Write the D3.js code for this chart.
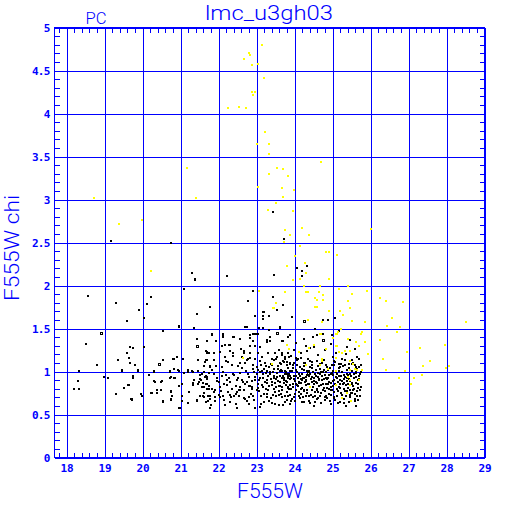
<!DOCTYPE html>
<html><head><meta charset="utf-8">
<script src="https://cdn.jsdelivr.net/npm/d3@7"></script>
<style>body{margin:0;background:#fff}svg{display:block}</style>
</head><body>
<script>
const chartTitle = "lmc_u3gh03";
const cornerTag = "PC";
const xLabel = "F555W";
const yLabel = "F555W chi";
const xTicks = [18,19,20,21,22,23,24,25,26,27,28,29];
const yTicks = [0,0.5,1,1.5,2,2.5,3,3.5,4,4.5,5];

const yellowStars = [
[23.15,4.80],[22.80,4.70],[22.83,4.68],[22.68,4.63],[22.89,4.56],[23.04,4.57],[23.20,4.41],[22.88,4.25],[22.96,4.25],[22.92,4.21],
[22.25,4.06],[22.55,4.08],[22.73,4.06],[23.22,3.78],[23.01,3.65],[23.33,3.64],[23.33,3.53],[21.17,3.37],[24.70,3.44],[23.53,3.37],
[23.69,3.36],[23.33,3.30],[23.83,3.27],[23.04,3.15],[23.68,3.13],[23.99,3.11],[23.69,3.03],[21.42,3.02],[23.51,2.96],[23.31,2.88],
[23.96,2.87],[23.75,2.64],[24.20,2.67],[23.87,2.59],[24.38,2.59],[26.01,2.66],[23.73,2.51],[24.15,2.46],[24.82,2.39],[24.91,2.39],
[25.12,2.36],[24.01,2.34],[24.28,2.26],[24.29,2.15],[23.80,2.23],[24.15,2.08],[24.91,2.08],[20.22,2.17],[18.73,3.02],[19.38,2.72],
[19.99,2.76],[26.25,1.86],[26.41,1.82],[26.85,1.81],[26.57,1.62],[26.43,1.53],[26.78,1.52],[26.69,1.46],[28.52,1.57],[26.25,1.37],
[27.95,1.31],[27.31,1.27],[26.96,1.23],[26.33,1.15],[27.57,1.12],[27.38,1.06],[28.06,1.06],[27.99,1.04],[26.41,1.02],[26.90,1.01],
[27.36,0.96],[26.75,0.93],[27.15,0.92],[27.06,0.85],[23.95,2.06],[24.68,2.00],[25.16,1.96],[25.41,2.00],[25.90,1.94],[25.52,1.90],
[24.75,1.89],[24.25,1.99],[24.29,1.92],[24.36,1.92],[24.65,1.93],[23.74,1.93],[24.54,1.85],[24.59,1.83],[24.75,1.83],[25.41,1.82],
[23.52,1.80],[23.43,1.74],[23.46,1.74],[24.55,1.75],[24.58,1.75],[24.92,1.70],[25.20,1.70],[25.27,1.66],[25.46,1.74],[25.85,1.58],
[25.52,1.59],[24.73,1.58],[24.36,1.60],[25.22,1.49],[25.15,1.46],[24.66,1.44],[24.69,1.44],[25.08,1.44],[25.12,1.44],[25.78,1.46],
[25.75,1.44],[25.00,1.39],[25.41,1.38],[25.62,1.34],[25.85,1.34],[25.69,1.30],[25.08,1.30],[25.11,1.30],[25.46,1.24],[25.33,1.24],
[25.94,1.20],[25.18,1.23],[25.25,1.21],[24.83,1.26],[24.73,1.15],[23.80,1.31],[23.85,1.26],[24.11,1.23],[24.38,1.27],[24.50,1.31],
[25.10,1.16],[25.46,1.12],[25.54,1.09],[23.40,1.09],[24.31,1.07],[24.68,1.07],[24.87,1.03],[25.46,1.02],[25.64,1.02],[25.78,1.02],
[25.59,1.03],[25.08,1.01],[25.40,0.94],[25.46,0.90],[25.69,0.90],[25.08,0.84],[25.46,0.84],[25.38,0.75],[24.40,0.82],[25.49,0.66],
[25.24,0.69],[24.73,1.12],[23.06,1.94],[22.64,1.16]
];

const openStars = [[18.92,1.44],[20.45,1.08],[21.44,1.29],[24.26,1.58],[23.55,1.44],[24.76,1.36],[24.37,0.98]];

const blackStars = [
[23.44,2.86],[23.73,2.54],[24.06,2.20],[24.32,2.23],[24.21,2.17],[23.47,2.12],[24.19,2.11],[21.31,2.15],[21.39,2.07],[22.23,2.11],
[20.75,2.50],[19.17,2.52],[21.38,2.06],[18.56,1.88],[20.22,1.87],[19.30,1.80],[20.12,1.79],[21.09,1.96],[19.90,1.72],[20.04,1.62],
[21.44,1.67],[21.77,1.75],[22.90,1.94],[22.77,1.82],[19.59,1.59],[20.97,1.53],[20.55,1.47],[21.35,1.51],[18.51,1.32],[19.68,1.28],
[19.75,1.27],[20.04,1.28],[19.60,1.22],[19.64,1.16],[19.36,1.13],[19.81,1.08],[18.80,1.07],[19.68,1.10],[18.32,1.01],[19.47,1.02],
[19.88,1.02],[20.30,1.01],[20.92,1.17],[20.82,1.15],[21.07,1.14],[20.54,1.13],[20.73,1.01],[20.83,1.03],[20.94,1.02],[18.99,0.94],
[19.09,0.93],[18.30,0.89],[19.75,0.95],[20.16,0.96],[20.30,0.89],[20.50,0.89],[20.76,0.94],[20.85,0.93],[18.19,0.80],[18.33,0.80],
[19.50,0.81],[19.64,0.84],[19.30,0.74],[19.70,0.68],[19.72,0.68],[19.96,0.74],[20.23,0.75],[20.38,0.75],[20.54,0.66],[20.75,0.76],
[20.75,0.68],[20.97,0.58],[21.04,0.66],[21.23,0.76],[21.43,0.67],[21.34,0.84],[21.45,0.86],[21.08,0.98],[21.20,1.02],[21.31,1.01],
[21.44,1.38],[21.83,1.44],[21.94,1.36],[22.12,1.44],[22.12,1.40],[22.18,1.31],[22.27,1.31],[22.04,1.23],[22.31,1.24],[22.41,1.40],
[21.69,1.21],[21.66,1.13],[21.89,1.13],[21.78,1.06],[21.94,1.06],[21.52,0.96],[21.66,0.95],[21.54,0.90],[21.69,0.85],[21.75,0.80],
[21.87,0.76],[21.59,0.72],[21.73,0.72],[21.78,0.68],[21.92,0.70],[21.80,0.61],[22.01,0.73],[22.13,0.72],[22.31,0.73],[22.17,0.61],
[22.49,0.76],[22.57,0.78],[22.69,0.68],[22.94,0.67],[22.31,0.65],[22.79,0.83],[22.88,0.82],[22.96,0.57],[22.96,1.64],[23.18,1.69],
[23.18,1.61],[22.71,1.52],[22.97,1.44],[23.03,1.44],[22.97,1.30],[22.66,1.24],[22.77,1.14],[22.83,1.16],[22.62,1.17],[22.57,1.38],
[22.82,1.39],[23.43,1.87],[23.69,1.77],[23.54,1.71],[23.20,1.69],[23.34,1.65],[23.17,1.65],[23.94,1.63],[24.76,1.60],[24.89,1.60],
[25.06,1.62],[23.06,1.51],[23.62,1.51],[23.34,1.48],[23.83,1.40],[22.90,1.44],[22.99,1.44],[23.27,1.37],[23.36,1.35],[24.55,1.49],
[25.17,1.47],[24.75,1.44],
[22.75,1.52],[23.18,1.51],[23.62,1.52],[22.13,1.43],[21.82,1.43],[22.39,1.40],[22.83,1.42],[23.36,1.40],[23.55,1.44],[23.87,1.43],
[21.69,1.35],[21.94,1.35],[22.09,1.30],[22.29,1.31],[22.92,1.36],[23.10,1.28],[23.27,1.34],[23.71,1.35],[21.68,1.24],[21.87,1.22],
[22.18,1.17],[22.39,1.21],[22.66,1.22],[22.83,1.21],[23.05,1.21],[23.49,1.21],[23.67,1.19],[23.82,1.22],[22.57,1.10],[22.75,1.13],
[22.26,1.11],[23.40,1.15],[23.52,1.14],[23.62,1.10],[23.75,1.14],[23.89,1.10],[21.61,1.06],[21.78,1.05],[23.25,1.06],[22.92,1.03],
[23.05,1.02],[23.14,1.01],[23.27,1.01],[23.46,1.03],[23.62,1.01],[23.75,1.01],[23.87,1.01],[21.56,0.97],[21.87,0.97],[22.09,0.95],
[22.38,0.97],[22.57,0.98],[23.18,0.97],[23.36,0.97],[23.54,0.94],[23.71,0.95],[23.84,0.93],[21.69,0.91],[21.96,0.89],[22.22,0.90],
[22.48,0.90],[22.75,0.88],[22.96,0.90],[23.27,0.90],[23.40,0.88],[23.62,0.88],[23.78,0.89],[21.61,0.82],[21.82,0.80],[22.04,0.82],
[22.35,0.80],[22.57,0.82],[22.83,0.83],[23.01,0.78],[23.18,0.82],[23.45,0.80],[23.67,0.78],[23.84,0.82],[21.78,0.72],[22.13,0.72],
[22.46,0.74],[22.66,0.69],[22.92,0.72],[23.27,0.70],[23.58,0.73],[23.80,0.67],[21.68,0.64],[21.91,0.66],[22.29,0.64],[22.79,0.62],
[23.10,0.59],[23.49,0.62],[21.78,0.58],[22.48,0.57],
[23.68,1.36],[23.81,1.31],[23.98,1.25],[23.68,1.21],[23.85,1.17],[24.16,1.21],[24.33,1.24],[24.51,1.28],[24.29,1.30],[24.77,1.36],
[24.60,1.42],[24.25,1.38],[24.95,1.32],[25.08,1.21],[25.39,1.28],[25.25,1.15],[25.52,1.13],[25.65,1.17],[23.72,1.11],[23.89,1.09],
[24.07,1.07],[24.25,1.10],[24.46,1.11],[24.68,1.09],[24.86,1.05],[25.04,1.07],[25.21,1.05],[25.43,1.09],[25.61,1.05],[25.74,1.07],
[23.68,1.01],[23.81,0.97],[24.03,0.95],[24.20,0.97],[24.38,1.01],[24.55,0.97],[24.73,0.95],[24.95,0.97],[25.17,0.95],[25.39,0.97],
[25.56,0.97],[25.74,0.99],[23.72,0.90],[23.89,0.91],[24.11,0.88],[24.29,0.90],[24.46,0.88],[24.64,0.90],[24.82,0.86],[25.04,0.90],
[25.21,0.86],[25.39,0.89],[25.52,0.86],[25.69,0.90],[23.68,0.82],[23.85,0.80],[24.07,0.84],[24.25,0.79],[24.42,0.82],[24.60,0.78],
[24.77,0.81],[24.99,0.78],[25.17,0.82],[25.34,0.77],[25.56,0.80],[25.74,0.82],[23.76,0.72],[23.98,0.70],[24.16,0.74],[24.38,0.71],
[24.60,0.68],[24.82,0.72],[25.04,0.69],[25.25,0.73],[25.47,0.70],[25.65,0.72],[23.89,0.62],[24.25,0.64],[24.51,0.60],[24.95,0.62],
[25.30,0.63],[25.61,0.60],
[20.97,1.52],[21.71,1.23],[21.74,1.21],[20.80,1.15],[21.06,1.14],[21.47,1.13],[21.65,1.11],[21.71,1.13],[19.46,1.01],[19.87,1.01],
[20.29,1.00],[20.73,1.00],[20.95,1.01],[21.21,1.00],[21.32,1.00],[21.47,1.01],[21.61,0.99],[21.74,0.98],[19.75,0.93],[20.16,0.96],
[20.73,0.93],[20.83,0.92],[21.36,0.90],[21.52,0.91],[21.65,0.94],[20.32,0.88],[20.48,0.88],[21.04,0.86],[21.33,0.87],[21.48,0.88],
[21.68,0.86],[19.50,0.81],[19.63,0.84],[20.38,0.79],[20.75,0.77],[20.96,0.83],[21.22,0.76],[21.56,0.82],[21.71,0.80],[19.98,0.72],
[20.25,0.75],[20.49,0.78],[20.77,0.72],[21.04,0.71],[21.50,0.72],[21.61,0.70],[21.74,0.71],[19.72,0.67],[20.54,0.65],[20.75,0.67],
[21.21,0.63],[21.43,0.66],[21.72,0.66],[20.99,0.58],
[22.52,0.93],[22.61,1.04],[22.70,0.86],[22.78,0.97],[22.86,0.74],[22.90,1.08],[22.97,0.94],[23.03,0.85],[23.08,1.12],[23.12,0.71],
[23.16,0.92],[23.21,1.03],[23.24,0.80],[23.29,0.95],[23.33,0.66],[23.37,1.09],[23.41,0.84],[23.44,0.99],[23.48,0.76],[23.51,0.91],
[23.56,1.06],[23.59,0.83],[23.63,0.95],[23.66,0.70],[23.70,1.12],[23.73,0.87],[23.77,0.99],[23.80,0.76],[23.83,1.04],[23.87,0.84],
[23.91,0.93],[23.94,0.68],[23.97,1.08],[24.01,0.89],[24.04,0.79],[24.07,0.99],[24.10,1.15],[24.13,0.72],[24.16,0.87],[24.19,1.03],
[24.22,0.93],[24.25,0.77],[24.28,1.10],[24.31,0.84],[24.34,0.96],[24.37,0.66],[24.40,1.05],[24.43,0.91],[24.46,0.79],[24.49,1.00],
[24.52,0.86],[24.55,0.72],[24.58,1.12],[24.61,0.94],[24.64,0.83],[24.67,1.03],[24.70,0.75],[24.73,0.90],[24.76,0.99],[24.79,0.67],
[24.82,1.08],[24.85,0.81],[24.88,0.93],[24.91,0.74],[24.94,1.04],[24.97,0.87],[25.00,0.96],[25.03,0.70],[25.06,1.11],[25.09,0.84],
[25.12,0.92],[25.15,0.77],[25.18,1.01],[25.21,0.65],[25.24,0.89],[25.27,1.06],[25.30,0.80],[25.33,0.94],[25.36,0.71],[25.39,1.02],
[25.42,0.86],[25.45,0.97],[25.48,0.75],[25.51,1.09],[25.54,0.83],[25.57,0.92],[25.60,0.68],[25.63,1.00],[25.66,0.85],[25.69,0.95],
[25.72,0.78],
[22.55,0.79],[22.64,0.88],[22.73,1.01],[22.81,0.70],[22.88,0.89],[22.95,1.15],[23.00,0.97],[23.06,0.77],[23.10,0.99],[23.14,0.84],
[23.19,0.64],[23.23,1.10],[23.27,0.87],[23.31,0.78],[23.35,1.00],[23.39,0.91],[23.43,0.73],[23.47,1.13],[23.50,0.82],[23.54,0.98],
[23.58,0.61],[23.61,0.88],[23.65,1.02],[23.68,0.79],[23.72,0.92],[23.75,0.65],[23.79,1.07],[23.82,0.81],[23.86,0.97],[23.89,0.73],
[23.93,1.01],[23.96,0.86],[23.99,0.95],[24.02,0.74],[24.06,1.13],[24.09,0.83],[24.12,0.97],[24.15,0.69],[24.18,0.91],[24.21,0.81],
[24.24,1.06],[24.27,0.88],[24.30,0.71],[24.33,1.01],[24.36,0.85],[24.39,0.95],[24.42,0.63],[24.45,1.08],[24.48,0.82],[24.51,0.92],
[24.54,0.76],[24.57,1.02],[24.60,0.87],[24.63,0.69],[24.66,0.97],[24.69,0.84],[24.72,1.10],[24.75,0.78],[24.78,0.91],[24.81,0.70],
[24.84,1.00],[24.87,0.86],[24.90,0.96],[24.93,0.66],[24.96,0.82],[24.99,1.07],[25.02,0.89],[25.05,0.76],[25.08,0.99],[25.11,0.72],
[25.14,0.88],[25.17,1.04],[25.20,0.81],[25.23,0.95],[25.26,0.69],[25.29,0.91],[25.32,1.08],[25.35,0.84],[25.38,0.77],[25.41,0.96],
[25.44,0.64],[25.47,0.89],[25.50,1.01],[25.53,0.79],[25.56,0.93],[25.59,0.74],[25.62,0.87],[25.65,1.03],[25.68,0.81],[25.71,0.91],
[21.58,0.87],[21.63,0.75],[21.70,0.94],[21.76,0.83],[21.84,1.02],[21.90,0.78],[21.97,0.92],[22.03,0.70],[22.08,1.05],[22.14,0.85],
[22.20,0.96],[22.25,0.76],[22.31,0.88],[22.36,1.08],[22.42,0.71],[22.47,0.83],
[23.60,1.25],[23.92,1.18],[24.05,1.33],[24.18,1.16],[24.40,1.27],[24.62,1.19],[24.80,1.25],[25.00,1.17],[25.13,1.30],[25.35,1.20],
[25.58,1.26],[25.70,1.14],[24.48,1.40],[24.98,1.42],[25.45,1.37],
[22.02,0.88],[22.06,0.77],[22.11,1.00],[22.15,0.67],[22.19,1.12],[22.23,0.84],[22.28,0.93],[22.33,0.70],[22.37,1.18],[22.41,0.96],
[22.45,0.62],[22.50,1.06],[22.54,0.72],[22.58,1.26],[22.62,0.90],[22.67,0.79],[22.71,1.10],[22.76,0.66],[22.80,0.94],[22.84,1.30],
[22.89,0.80],[22.93,0.99],
[23.02,1.05],[23.07,0.90],[23.11,0.62],[23.15,1.17],[23.20,0.74],[23.25,0.98],[23.30,1.22],[23.34,0.83],[23.38,0.69],[23.42,1.07],
[23.46,0.92],[23.50,0.72],[23.53,1.17],[23.57,0.89],[23.60,0.77],[23.64,1.09],[23.67,0.93],[23.71,0.61],[23.74,0.97],[23.78,0.84],
[23.81,1.11],[23.84,0.71],[23.88,0.95],[23.92,0.80],[23.95,1.04],[23.98,0.91],[24.00,0.66],[24.03,1.16],[24.05,0.85],[24.08,0.93],
[24.11,0.76],[24.14,1.05],[24.17,0.80],[24.20,0.90],[24.23,0.70],[24.26,1.02],[24.29,0.94],[24.32,0.75],[24.35,1.14],[24.38,0.86],
[24.41,0.97],[24.44,0.73],[24.47,1.04],[24.50,0.89],[24.53,0.64],[24.56,0.95],[24.59,0.80],[24.62,1.06],[24.65,0.91],[24.68,0.71],
[24.71,0.99],[24.74,0.85],[24.77,1.13],[24.80,0.77],[24.83,0.93],[24.86,0.69],[24.89,1.02],[24.92,0.88],[24.95,0.78],[24.98,0.98],
[25.01,0.83],[25.04,1.12],[25.07,0.67],[25.10,0.94],[25.13,0.80],[25.16,1.09],[25.19,0.90],[25.22,0.75],[25.25,1.00],[25.28,0.85],
[25.31,0.68],[25.34,1.13],[25.37,0.92],[25.40,0.81],[25.43,1.04],[25.46,0.73],[25.49,0.95],[25.52,0.87],[25.55,1.10],[25.58,0.66],
[25.61,0.98],[25.64,0.77],[25.67,0.90],[25.70,1.05],[25.73,0.71],
[23.04,0.81],[23.13,1.08],[23.22,0.88],[23.32,1.05],[23.40,0.63],[23.49,0.87],[23.57,1.03],[23.65,0.74],[23.74,1.17],[23.83,0.95],
[23.90,0.66],[23.97,0.82],[24.04,1.02],[24.12,0.87],[24.19,0.64],[24.26,0.92],[24.34,0.78],[24.41,1.12],[24.49,0.70],[24.56,0.88],
[24.63,0.98],[24.70,0.63],[24.78,1.02],[24.85,0.91],[24.92,0.80],[25.00,1.01],[25.07,0.86],[25.14,0.63],[25.22,1.09],[25.29,0.96],
[25.36,0.60],[25.44,0.91],[25.51,0.75],[25.58,1.07],[25.66,0.67],[25.72,0.97],
[23.09,0.93],[23.28,0.74],[23.45,0.95],[23.63,0.83],[23.80,0.88],[23.99,1.10],[24.14,0.95],[24.31,0.89],[24.47,0.94],[24.63,0.76],
[24.80,0.96],[24.97,0.73],[25.13,0.97],[25.30,0.87],[25.47,0.79],[25.63,0.94]
];

const W = 512, H = 512;
const blue = "#0000ff";
const labelFont = "Roboto, 'DejaVu Sans', sans-serif";
const svg = d3.select("body").append("svg").attr("width", W).attr("height", H)
  .style("font-family", labelFont);
svg.append("rect").attr("width", W).attr("height", H).attr("fill", "#fff");

const x = d3.scaleLinear().domain([17.684, 29]).range([54.5, 484.5]);
const y = d3.scaleLinear().domain([0, 5]).range([457.5, 27.5]);
const pw = 430, ph = 430;

const xMinor = d3.range(178, 290, 2).map(v => v / 10).filter(v => v >= 17.7 && Math.abs(v - Math.round(v)) > 1e-6);
const yMinor = d3.range(0, 51, 1).map(v => v / 10).filter(v => Math.abs(v * 2 - Math.round(v * 2)) > 1e-6);

function styleAxis(g) {
  g.select(".domain").remove();
  g.selectAll(".tick line").attr("stroke", blue).attr("stroke-width", 1).attr("shape-rendering", "crispEdges");
}

const gx = svg.append("g").attr("transform", "translate(0,457.5)")
  .call(d3.axisBottom(x).tickValues(xTicks).tickSize(-ph).tickSizeOuter(0).tickFormat(d3.format("d")))
  .call(styleAxis);
gx.selectAll(".tick text").attr("y", 14).attr("dy", 0)
  .attr("fill", blue).style("font-family", "'DejaVu Sans Mono', monospace").style("font-weight", "bold").style("font-size", "11px");

const gy = svg.append("g").attr("transform", "translate(54.5,0)")
  .call(d3.axisLeft(y).tickValues(yTicks).tickSize(-pw).tickSizeOuter(0).tickFormat(d3.format("~g")))
  .call(styleAxis);
gy.selectAll(".tick text").attr("x", -5).attr("dy", "0.35em")
  .attr("fill", blue).style("font-family", "'DejaVu Sans Mono', monospace").style("font-weight", "bold").style("font-size", "11px")
  .style("letter-spacing", "-0.8px");

svg.append("g").attr("transform", "translate(0,457.5)")
  .call(d3.axisBottom(x).tickValues(xMinor).tickSize(-5).tickFormat(""))
  .call(styleAxis);
svg.append("g").attr("transform", "translate(0,27.5)")
  .call(d3.axisTop(x).tickValues(xMinor).tickSize(-5).tickFormat(""))
  .call(styleAxis);
svg.append("g").attr("transform", "translate(54.5,0)")
  .call(d3.axisLeft(y).tickValues(yMinor).tickSize(-5).tickFormat(""))
  .call(styleAxis);
svg.append("g").attr("transform", "translate(484.5,0)")
  .call(d3.axisRight(y).tickValues(yMinor).tickSize(-5).tickFormat(""))
  .call(styleAxis);

svg.append("rect").attr("x", 54.5).attr("y", 27.5).attr("width", pw).attr("height", ph)
  .attr("fill", "none").attr("stroke", blue).attr("stroke-width", 1).attr("shape-rendering", "crispEdges");

const pts = svg.append("g").attr("shape-rendering", "crispEdges");
pts.selectAll("rect.b").data(blackStars).join("rect").attr("class", "b")
  .attr("x", d => Math.round(x(d[0]) - 1)).attr("y", d => Math.round(y(d[1]) - 1))
  .attr("width", 2).attr("height", 2).attr("fill", "#000");
pts.selectAll("rect.o").data(openStars).join("rect").attr("class", "o")
  .attr("x", d => Math.round(x(d[0]) - 1.5) + 0.5).attr("y", d => Math.round(y(d[1]) - 1.5) + 0.5)
  .attr("width", 2).attr("height", 2).attr("fill", "#fff").attr("stroke", "#000").attr("stroke-width", 1);
pts.selectAll("rect.y").data(yellowStars).join("rect").attr("class", "y")
  .attr("x", d => Math.round(x(d[0]) - 1)).attr("y", d => Math.round(y(d[1]) - 1))
  .attr("width", 2).attr("height", 2).attr("fill", "#ffff00");

const lw = 300;
svg.append("text").attr("x", 269).attr("y", 20).attr("text-anchor", "middle").style("font-weight", lw)
  .attr("fill", blue).style("font-size", "21px").attr("textLength", 128).attr("lengthAdjust", "spacingAndGlyphs")
  .text(chartTitle);
svg.append("text").attr("x", 96).attr("y", 24).attr("text-anchor", "middle").style("font-weight", lw)
  .attr("fill", blue).style("font-size", "16px").attr("textLength", 21).attr("lengthAdjust", "spacingAndGlyphs")
  .text(cornerTag);
svg.append("text").attr("x", 270).attr("y", 498).attr("text-anchor", "middle").style("font-weight", lw)
  .attr("fill", blue).style("font-size", "21px").attr("textLength", 66).attr("lengthAdjust", "spacingAndGlyphs")
  .text(xLabel);
svg.append("text").attr("transform", "translate(19,248) rotate(-90)").attr("text-anchor", "middle").style("font-weight", lw)
  .attr("fill", blue).style("font-size", "21px").attr("textLength", 106).attr("lengthAdjust", "spacingAndGlyphs")
  .text(yLabel);
</script>
</body></html>
